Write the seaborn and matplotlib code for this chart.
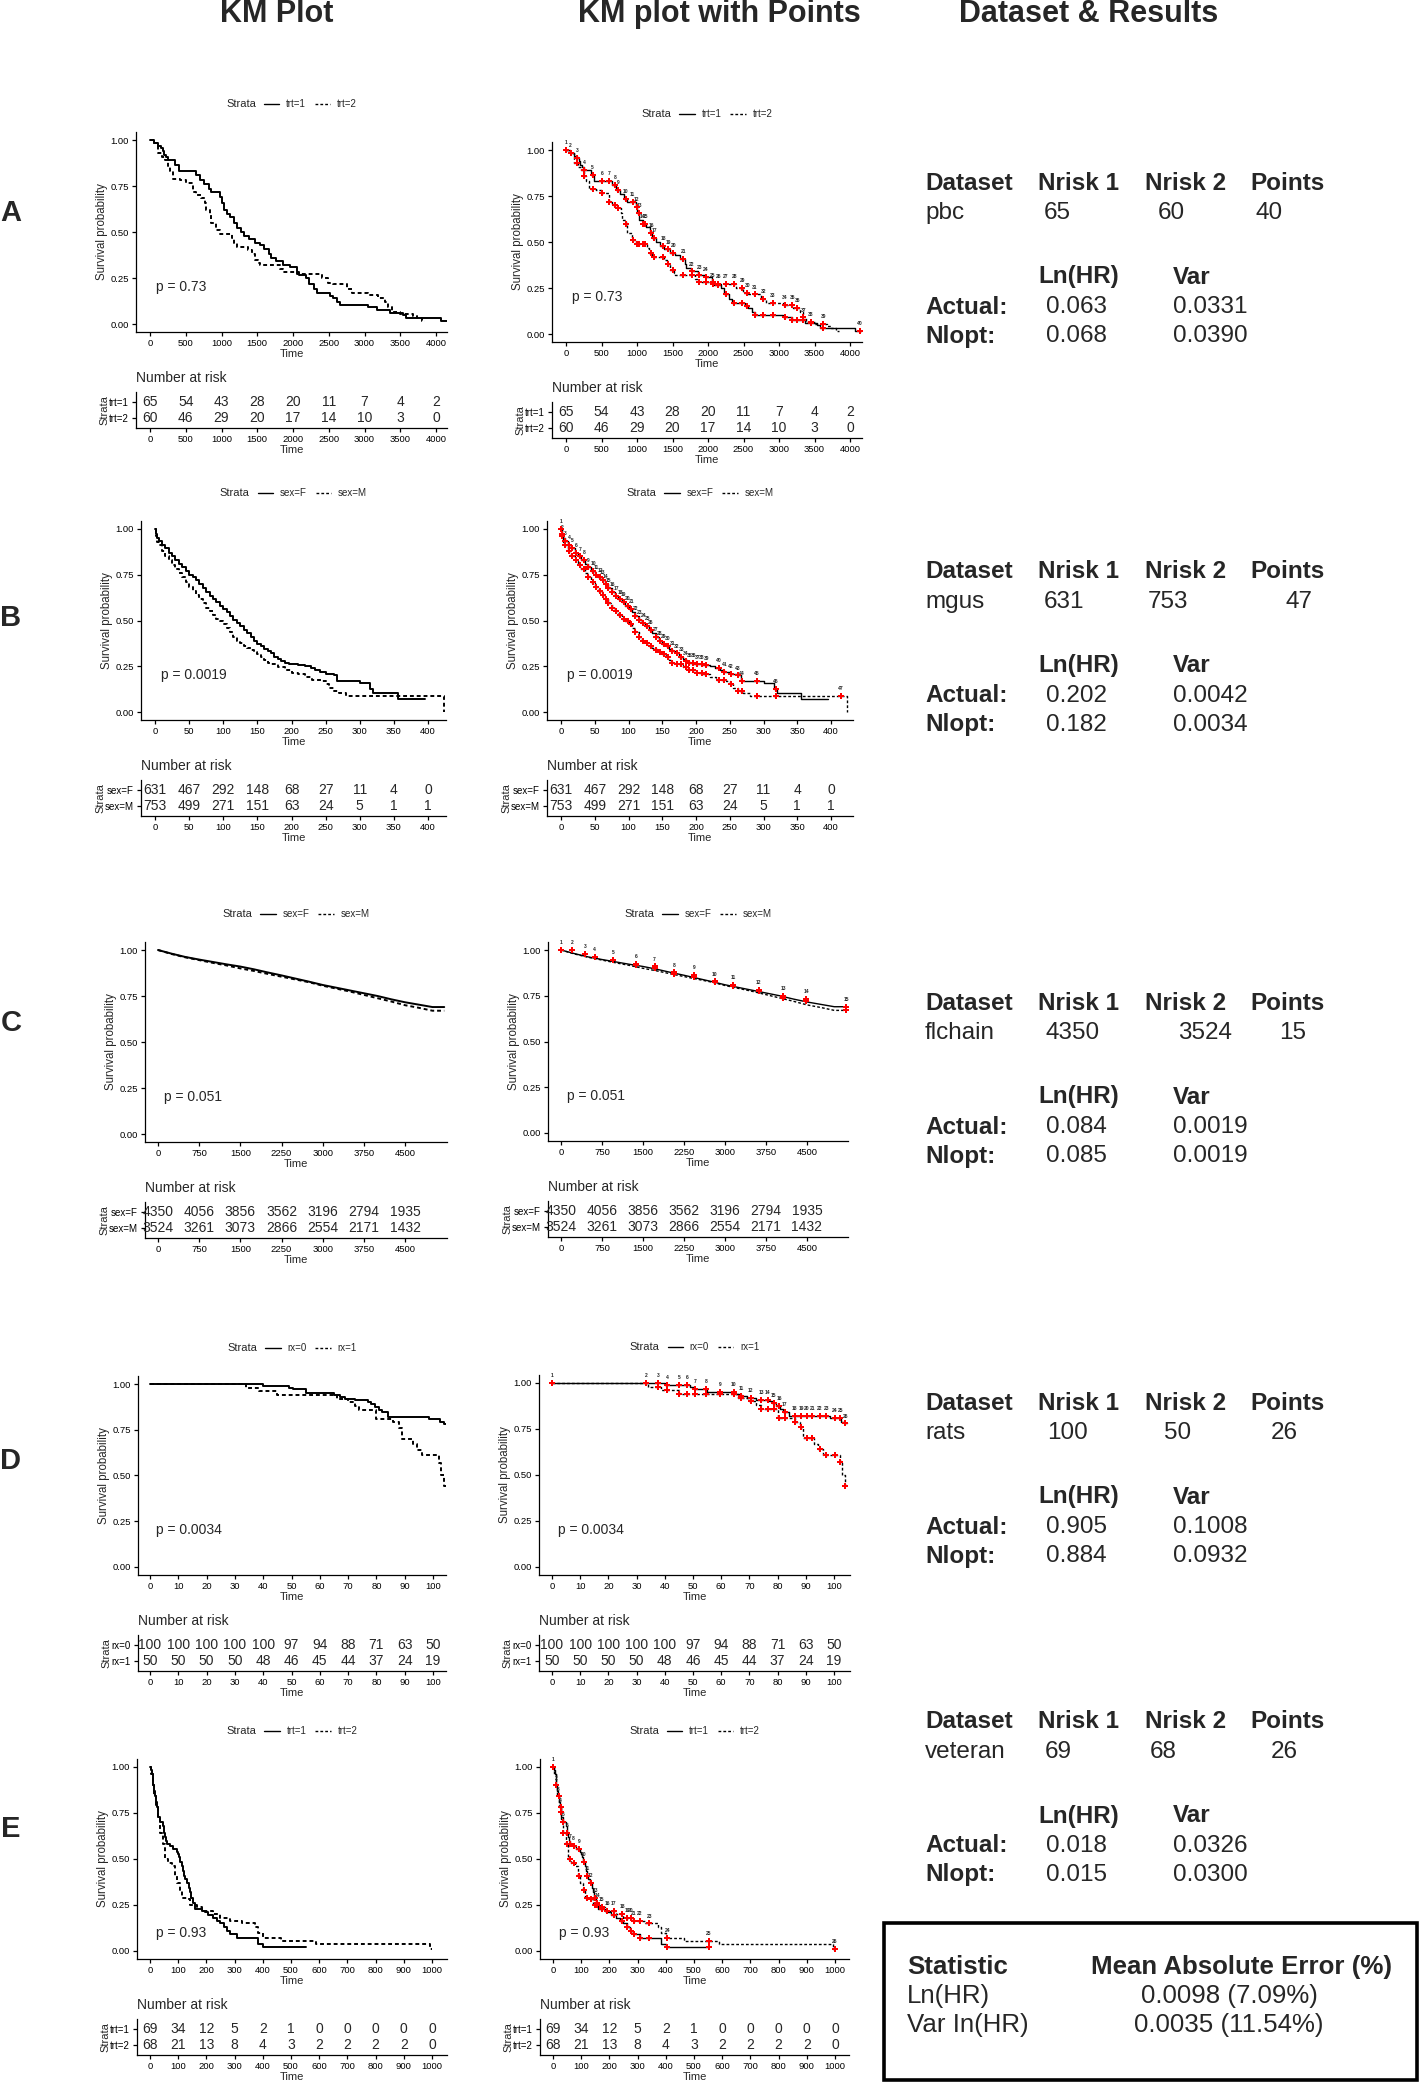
import numpy as np
import pandas as pd
import matplotlib
matplotlib.use("Agg")
import matplotlib.pyplot as plt
import seaborn as sns
from matplotlib.lines import Line2D
from matplotlib.patches import Rectangle

sns.set_theme(style="ticks")
plt.rcParams["font.family"] = ["Liberation Sans", "DejaVu Sans"]
plt.rcParams["axes.edgecolor"] = "black"

# ---------------------------------------------------------------- data
PBC_STRATA = ["trt=1", "trt=2"]
PBC_TRT1 = [(0, 1.0), (60, 0.985), (110, 0.97), (150, 0.955), (180, 0.94), (200, 0.92), (230, 0.905),
            (250, 0.89), (350, 0.865), (400, 0.83), (650, 0.81), (700, 0.785), (760, 0.76), (820, 0.735),
            (860, 0.72), (980, 0.69), (1000, 0.66), (1030, 0.62), (1080, 0.60), (1120, 0.58), (1180, 0.55),
            (1210, 0.52), (1270, 0.50), (1320, 0.48), (1380, 0.46), (1470, 0.44), (1540, 0.43), (1600, 0.41),
            (1670, 0.38), (1690, 0.36), (1760, 0.34), (1860, 0.32), (1960, 0.31), (2050, 0.28), (2090, 0.265),
            (2180, 0.25), (2230, 0.22), (2290, 0.19), (2340, 0.17), (2520, 0.15), (2560, 0.14), (2620, 0.12),
            (2660, 0.105), (3050, 0.09), (3180, 0.075), (3360, 0.06), (3540, 0.05), (3580, 0.035),
            (4070, 0.015), (4190, 0.015)]
PBC_TRT2 = [(0, 1.0), (60, 0.985), (117, 0.93), (170, 0.91), (210, 0.89), (255, 0.86), (280, 0.83),
            (326, 0.79), (420, 0.78), (510, 0.765), (606, 0.72), (650, 0.70), (720, 0.685), (770, 0.66),
            (790, 0.62), (840, 0.60), (860, 0.55), (930, 0.51), (980, 0.49), (1140, 0.47), (1175, 0.44),
            (1210, 0.42), (1375, 0.40), (1420, 0.38), (1470, 0.35), (1515, 0.33), (1540, 0.32), (1820, 0.30),
            (1865, 0.285), (2050, 0.27), (2400, 0.25), (2495, 0.225), (2565, 0.215), (2750, 0.19),
            (2820, 0.17), (3050, 0.16), (3195, 0.14), (3290, 0.12), (3335, 0.09), (3380, 0.065),
            (3500, 0.055), (3680, 0.045), (3730, 0.03), (3800, 0.015), (3840, 0.015)]
PBC_POINTS = [0, 66, 160, 258, 375, 512, 610, 690, 737, 840, 939, 995, 1028, 1080, 1113, 1197, 1244, 1371,
              1441, 1512, 1653, 1770, 1878, 1972, 2066, 2146, 2254, 2371, 2484, 2554, 2662, 2779, 2911, 3085,
              3188, 3258, 3343, 3446, 3624, 4141]
PBC_TICKS = [0, 500, 1000, 1500, 2000, 2500, 3000, 3500, 4000]
PBC_RISK1 = [65, 54, 43, 28, 20, 11, 7, 4, 2]
PBC_RISK2 = [60, 46, 29, 20, 17, 14, 10, 3, 0]

MGUS_STRATA = ["sex=F", "sex=M"]
MGUS_F = [(0, 1.0), (1, 0.97), (3, 0.95), (6, 0.935), (10, 0.915), (15, 0.895), (20, 0.87), (25, 0.85),
          (30, 0.83), (35, 0.81), (40, 0.79), (45, 0.77), (50, 0.75), (55, 0.735), (60, 0.72), (65, 0.70),
          (70, 0.68), (75, 0.655), (80, 0.635), (85, 0.615), (90, 0.60), (95, 0.58), (100, 0.565),
          (105, 0.545), (110, 0.525), (115, 0.505), (120, 0.485), (125, 0.47), (130, 0.45), (135, 0.43),
          (140, 0.41), (145, 0.39), (150, 0.37), (155, 0.36), (160, 0.345), (165, 0.335), (170, 0.32),
          (175, 0.30), (180, 0.29), (185, 0.28), (190, 0.27), (197, 0.26), (210, 0.255), (220, 0.25),
          (228, 0.24), (235, 0.23), (242, 0.22), (250, 0.21), (262, 0.20), (266, 0.17), (300, 0.16),
          (315, 0.125), (320, 0.105), (356, 0.07), (395, 0.07)]
MGUS_M = [(0, 1.0), (1, 0.96), (3, 0.93), (6, 0.91), (10, 0.88), (15, 0.855), (20, 0.83), (25, 0.805),
          (30, 0.78), (35, 0.76), (40, 0.735), (45, 0.71), (50, 0.685), (55, 0.66), (60, 0.64), (65, 0.615),
          (70, 0.595), (75, 0.57), (80, 0.55), (85, 0.53), (90, 0.51), (95, 0.495), (100, 0.48), (105, 0.46),
          (110, 0.435), (115, 0.41), (120, 0.39), (125, 0.375), (130, 0.36), (135, 0.35), (140, 0.34),
          (145, 0.33), (150, 0.315), (155, 0.30), (160, 0.285), (165, 0.27), (170, 0.26), (180, 0.245),
          (190, 0.23), (200, 0.215), (210, 0.205), (220, 0.19), (230, 0.175), (245, 0.17), (250, 0.155),
          (255, 0.13), (262, 0.115), (270, 0.105), (280, 0.09), (424, 0.0)]
MGUS_POINTS = [0, 2, 6, 12, 16, 22, 28, 34, 40, 48, 52, 58, 62, 66, 70, 76, 82, 88, 93, 99, 104, 110, 116,
               122, 128, 133, 140, 146, 152, 158, 165, 172, 178, 185, 190, 196, 202, 209, 215, 234, 242, 252,
               262, 268, 290, 318, 415]
MGUS_TICKS = [0, 50, 100, 150, 200, 250, 300, 350, 400]
MGUS_RISK1 = [631, 467, 292, 148, 68, 27, 11, 4, 0]
MGUS_RISK2 = [753, 499, 271, 151, 63, 24, 5, 1, 1]

FLC_STRATA = ["sex=F", "sex=M"]
FLC_F = [(0, 1.0), (250, 0.98), (500, 0.962), (750, 0.948), (1000, 0.935), (1250, 0.922), (1500, 0.91),
         (1750, 0.895), (2000, 0.878), (2250, 0.862), (2500, 0.845), (2750, 0.828), (3000, 0.81),
         (3250, 0.795), (3500, 0.78), (3750, 0.765), (4000, 0.75), (4250, 0.732), (4500, 0.716),
         (4750, 0.703), (5000, 0.69), (5215, 0.69)]
FLC_M = [(0, 1.0), (250, 0.978), (500, 0.96), (750, 0.945), (1000, 0.93), (1250, 0.916), (1500, 0.90),
         (1750, 0.886), (2000, 0.87), (2250, 0.855), (2500, 0.84), (2750, 0.825), (3000, 0.806),
         (3250, 0.79), (3500, 0.774), (3750, 0.756), (4000, 0.738), (4250, 0.72), (4500, 0.70),
         (4750, 0.686), (5000, 0.67), (5215, 0.67)]
FLC_POINTS = [0, 201, 445, 616, 951, 1372, 1713, 2073, 2439, 2811, 3146, 3616, 4061, 4488, 5215]
FLC_TICKS = [0, 750, 1500, 2250, 3000, 3750, 4500]
FLC_RISK1 = [4350, 4056, 3856, 3562, 3196, 2794, 1935]
FLC_RISK2 = [3524, 3261, 3073, 2866, 2554, 2171, 1432]

RATS_STRATA = ["rx=0", "rx=1"]
RATS_RX0 = [(0, 1.0), (40, 0.99), (49, 0.98), (50.5, 0.97), (55, 0.95), (65, 0.94), (67, 0.93), (69, 0.92),
            (72.5, 0.91), (77, 0.90), (78, 0.89), (79.5, 0.875), (81, 0.86), (82, 0.845), (84, 0.82),
            (98.5, 0.81), (102.5, 0.79), (104, 0.78), (104.5, 0.78)]
RATS_RX1 = [(0, 1.0), (34, 0.98), (38.5, 0.96), (45, 0.94), (66, 0.92), (70, 0.90), (72.5, 0.88),
            (74, 0.86), (80, 0.81), (86, 0.79), (88, 0.76), (89, 0.70), (93, 0.67), (94.5, 0.64), (96, 0.61),
            (102, 0.57), (103, 0.50), (104, 0.44), (104.5, 0.44)]
RATS_POINTS = [0, 33.5, 37.6, 40.9, 45, 47.9, 50.6, 54.7, 59.7, 64.4, 67.1, 70.4, 74.2, 76.6, 78.6, 80.5,
               82.5, 86, 88.4, 90.4, 92.3, 94.9, 97.3, 100.2, 102.2, 104]
RATS_TICKS = [0, 10, 20, 30, 40, 50, 60, 70, 80, 90, 100]
RATS_RISK1 = [100, 100, 100, 100, 100, 97, 94, 88, 71, 63, 50]
RATS_RISK2 = [50, 50, 50, 50, 48, 46, 45, 44, 37, 24, 19]

VET_STRATA = ["trt=1", "trt=2"]
VET_TRT1 = [(0, 1.0), (3, 0.985), (6, 0.96), (10, 0.93), (12, 0.90), (15, 0.87), (18, 0.84), (21, 0.81),
            (24, 0.78), (27, 0.755), (30, 0.73), (35, 0.70), (45, 0.68), (50, 0.64), (53, 0.62), (58, 0.60),
            (61, 0.58), (71, 0.57), (83, 0.555), (94, 0.54), (100, 0.525), (104, 0.51), (108, 0.485),
            (112, 0.46), (117, 0.435), (120, 0.41), (125, 0.39), (130, 0.37), (137, 0.345), (142, 0.32),
            (147, 0.29), (151, 0.26), (159, 0.23), (183, 0.22), (195, 0.21), (207, 0.195), (224, 0.18),
            (236, 0.165), (248, 0.15), (262, 0.13), (272, 0.11), (283, 0.09), (307, 0.07), (384, 0.04),
            (401, 0.02), (553, 0.02)]
VET_TRT2 = [(0, 1.0), (2, 0.96), (9, 0.90), (14, 0.84), (21, 0.78), (30, 0.72), (35, 0.64), (45, 0.58),
            (53, 0.50), (65, 0.48), (77, 0.46), (89, 0.41), (97, 0.37), (106, 0.33), (112, 0.29),
            (130, 0.28), (142, 0.25), (165, 0.24), (183, 0.22), (224, 0.20), (248, 0.18), (283, 0.165),
            (325, 0.15), (372, 0.13), (384, 0.10), (401, 0.07), (466, 0.055), (590, 0.04), (992, 0.01),
            (999, 0.01)]
VET_POINTS = [0, 12, 20, 27, 35, 50, 62, 73, 92, 110, 121, 134, 149, 157, 173, 193, 215, 246, 264, 276, 286,
              308, 341, 406, 553, 999]
VET_TICKS = [0, 100, 200, 300, 400, 500, 600, 700, 800, 900, 1000]
VET_RISK1 = [69, 34, 12, 5, 2, 1, 0, 0, 0, 0, 0]
VET_RISK2 = [68, 21, 13, 8, 4, 3, 2, 2, 2, 2, 0]

ROW_LETTERS = ["A", "B", "C", "D", "E"]
DATASET_NAMES = ["pbc", "mgus", "flchain", "rats", "veteran"]
P_VALUES = ["0.73", "0.0019", "0.051", "0.0034", "0.93"]
P_Y = [0.2, 0.2, 0.2, 0.2, 0.1]
NRISK1 = ["65", "631", "4350", "100", "69"]
NRISK2 = ["60", "753", "3524", "50", "68"]
NPOINTS = ["40", "47", "15", "26", "26"]
LNHR_ACTUAL = ["0.063", "0.202", "0.084", "0.905", "0.018"]
VAR_ACTUAL = ["0.0331", "0.0042", "0.0019", "0.1008", "0.0326"]
LNHR_NLOPT = ["0.068", "0.182", "0.085", "0.884", "0.015"]
VAR_NLOPT = ["0.0390", "0.0034", "0.0019", "0.0932", "0.0300"]
MAE_STATS = ["Ln(HR)", "Var In(HR)"]
MAE_VALUES = ["0.0098 (7.09%)", "0.0035 (11.54%)"]

DATASETS = [
    dict(strata=PBC_STRATA, curves=[PBC_TRT1, PBC_TRT2], points=PBC_POINTS, ticks=PBC_TICKS,
         risk=[PBC_RISK1, PBC_RISK2], smooth=False),
    dict(strata=MGUS_STRATA, curves=[MGUS_F, MGUS_M], points=MGUS_POINTS, ticks=MGUS_TICKS,
         risk=[MGUS_RISK1, MGUS_RISK2], smooth=False),
    dict(strata=FLC_STRATA, curves=[FLC_F, FLC_M], points=FLC_POINTS, ticks=FLC_TICKS,
         risk=[FLC_RISK1, FLC_RISK2], smooth=True),
    dict(strata=RATS_STRATA, curves=[RATS_RX0, RATS_RX1], points=RATS_POINTS, ticks=RATS_TICKS,
         risk=[RATS_RISK1, RATS_RISK2], smooth=False),
    dict(strata=VET_STRATA, curves=[VET_TRT1, VET_TRT2], points=VET_POINTS, ticks=VET_TICKS,
         risk=[VET_RISK1, VET_RISK2], smooth=False),
]

# ---------------------------------------------------------------- layout (pixels)
W, H = 1420, 2083
# (axis left, axis right, px of x=0, px of last tick, px of y=1, px of y=0)
LAYOUT = [
    [(136, 447, 150, 436, 140, 324), (552, 862, 566, 850, 150, 334)],
    [(141, 446, 155, 428, 529, 712), (547, 853, 561, 831, 529, 712)],
    [(145, 447, 158, 405, 950, 1134), (548, 848, 561, 807, 950, 1133)],
    [(138, 446, 150, 433, 1384, 1567), (539, 850, 552, 834, 1383, 1567)],
    [(137, 447, 150, 432, 1767, 1951), (540, 849, 553, 835, 1767, 1951)],
]
LETTER_Y = [213, 618, 1023, 1461, 1829]
TEXT_HEADER_Y = [183, 572, 1003, 1403, 1722]
VALUE_X = [[925, 1044, 1158, 1256], [925, 1044, 1148, 1286], [925, 1045, 1178, 1279],
           [925, 1047, 1164, 1271], [925, 1045, 1150, 1271]]

fig = plt.figure(figsize=(W / 100, H / 100), dpi=100)
fig.patch.set_facecolor("white")


def rect(l, t, r, b):
    return [l / W, 1 - b / H, (r - l) / W, (b - t) / H]


def ftext(x, y, s, **kw):
    fig.text(x / W, 1 - y / H, s, **kw)


def surv_at(curve, t):
    val = None
    for ct, cs in curve:
        if ct <= t:
            val = cs
    return val


def style_axes(ax):
    for sp in ["top", "right"]:
        ax.spines[sp].set_visible(False)
    for sp in ["left", "bottom"]:
        ax.spines[sp].set_linewidth(0.9)
        ax.spines[sp].set_color("black")
    ax.tick_params(axis="both", direction="out", length=3, width=0.9, labelsize=6.8,
                   colors="black", pad=2, left=True, bottom=True)
    ax.set_facecolor("white")
    ax.grid(False)


legend_jobs = []


def draw_km(ds, lay, pval, py, with_points):
    left, right, x0, xtp, y1, y0 = lay
    ticks = ds["ticks"]
    xs = (xtp - x0) / ticks[-1]
    xlim = ((left - x0) / xs, (right - x0) / xs)
    yr = y0 - y1
    top, bottom = y1 - 0.045 * yr, y0 + 0.045 * yr
    ax = fig.add_axes(rect(left, top, right, bottom))
    rows = []
    for lab, curve in zip(ds["strata"], ds["curves"]):
        for t, s in curve:
            rows.append((lab, t, s))
    df = pd.DataFrame(rows, columns=["strata", "time", "surv"])
    lw = 1.0 if with_points else 1.4
    sns.lineplot(data=df, x="time", y="surv", style="strata", style_order=ds["strata"],
                 dashes={ds["strata"][0]: "", ds["strata"][1]: (2, 1.5)}, color="black",
                 estimator=None, sort=False, linewidth=lw, legend=False, ax=ax,
                 drawstyle="default" if ds["smooth"] else "steps-post")
    if with_points:
        pts = []
        labs = []
        for i, t in enumerate(ds["points"]):
            vals = []
            for curve in ds["curves"]:
                if t <= curve[-1][0] + 1e-9:
                    v = surv_at(curve, t)
                    vals.append(v)
                    pts.append((t, v))
            if vals:
                labs.append((t, max(vals), str(i + 1)))
        pdf = pd.DataFrame(pts, columns=["time", "surv"])
        sns.scatterplot(data=pdf, x="time", y="surv", marker="P", s=13, color="red",
                        linewidth=0, ax=ax, zorder=5, clip_on=False)
        for t, v, s in labs:
            ax.text(t, v + 0.04, s, fontsize=3.6, fontweight="bold", ha="center", va="center",
                    clip_on=False)
    tmax = max(c[-1][0] for c in ds["curves"])
    ax.text(tmax / 50, py, "p = " + pval, fontsize=10, ha="left", va="center")
    ax.set_xlim(*xlim)
    ax.set_ylim(-0.045, 1.045)
    ax.set_xticks(ticks)
    ax.set_xticklabels([str(t) for t in ticks])
    ax.set_yticks([0, 0.25, 0.5, 0.75, 1.0])
    ax.set_yticklabels(["0.00", "0.25", "0.50", "0.75", "1.00"])
    style_axes(ax)
    ax.set_xlabel("Time", fontsize=8, labelpad=0.5)
    ax.set_ylabel("Survival probability", fontsize=8.3, labelpad=2)

    # legend
    yl = y1 - 36
    cx = (left + right) / 2
    handles = [Line2D([], [], color="black", lw=1.0),
               Line2D([], [], color="black", lw=1.0, dashes=(2, 1.5))]
    leg = ax.legend(handles, ds["strata"], loc="center", ncol=2, frameon=False, fontsize=7,
                    handlelength=1.6, handletextpad=0.7, columnspacing=0.9, borderpad=0,
                    borderaxespad=0,
                    bbox_to_anchor=((cx + 19 - left) / (right - left), (bottom - yl) / (bottom - top)))
    legend_jobs.append(leg)

    # risk table
    rt_top, rt_bot = y0 + 68, y0 + 104
    rax = fig.add_axes(rect(left, rt_top, right, rt_bot))
    rax.set_xlim(*xlim)
    rax.set_ylim(0.35, 2.65)
    for row_y, counts in zip([2, 1], ds["risk"]):
        for t, n in zip(ticks, counts):
            rax.text(t, row_y, str(n), ha="center", va="center", fontsize=10)
    rax.set_xticks(ticks)
    rax.set_xticklabels([str(t) for t in ticks])
    rax.set_yticks([2, 1])
    rax.set_yticklabels(ds["strata"], fontsize=7)
    style_axes(rax)
    rax.tick_params(axis="y", labelsize=7)
    rax.set_xlabel("Time", fontsize=8, labelpad=0.5)
    rax.set_ylabel("Strata", fontsize=8, labelpad=0)
    rax.text(0, 1 + 14 / (rt_bot - rt_top), "Number at risk", transform=rax.transAxes,
             fontsize=10, ha="left", va="center")


for r, ds in enumerate(DATASETS):
    draw_km(ds, LAYOUT[r][0], P_VALUES[r], P_Y[r], False)
    draw_km(ds, LAYOUT[r][1], P_VALUES[r], P_Y[r], True)

    ftext(11, LETTER_Y[r], ROW_LETTERS[r], fontsize=21, fontweight="bold", ha="center", va="center")

    hy = TEXT_HEADER_Y[r]
    fs = 17.5
    for x, s in zip([925, 1038, 1145, 1250], ["Dataset", "Nrisk 1", "Nrisk 2", "Points"]):
        ftext(x, hy, s, fontsize=fs, fontweight="bold", ha="left", va="center")
    for x, s in zip(VALUE_X[r], [DATASET_NAMES[r], NRISK1[r], NRISK2[r], NPOINTS[r]]):
        ftext(x, hy + 30, s, fontsize=fs, ha="left", va="center")
    ftext(1038, hy + 94, "Ln(HR)", fontsize=fs, fontweight="bold", ha="left", va="center")
    ftext(1173, hy + 94, "Var", fontsize=fs, fontweight="bold", ha="left", va="center")
    ftext(925, hy + 124, "Actual:", fontsize=fs, fontweight="bold", ha="left", va="center")
    ftext(925, hy + 153, "Nlopt:", fontsize=fs, fontweight="bold", ha="left", va="center")
    ftext(1046, hy + 124, LNHR_ACTUAL[r], fontsize=fs, ha="left", va="center")
    ftext(1173, hy + 124, VAR_ACTUAL[r], fontsize=fs, ha="left", va="center")
    ftext(1046, hy + 153, LNHR_NLOPT[r], fontsize=fs, ha="left", va="center")
    ftext(1173, hy + 153, VAR_NLOPT[r], fontsize=fs, ha="left", va="center")

# column headers
for x, s in zip([277, 719, 1089], ["KM Plot", "KM plot with Points", "Dataset & Results"]):
    ftext(x, 14, s, fontsize=22, fontweight="bold", ha="center", va="center")

# results box
box = Rectangle((884 / W, 1 - 2080 / H), (1417 - 884) / W, (2080 - 1923) / H,
                transform=fig.transFigure, fill=False, lw=2.6, ec="black")
fig.add_artist(box)
bfs = 18.6
ftext(907, 1967, "Statistic", fontsize=bfs, fontweight="bold", ha="left", va="center")
ftext(1091, 1967, "Mean Absolute Error (%)", fontsize=bfs, fontweight="bold", ha="left", va="center")
for i, (s, v) in enumerate(zip(MAE_STATS, MAE_VALUES)):
    ftext(907, 1996 + 29 * i, s, fontsize=bfs, ha="left", va="center")
    ftext(1229, 1996 + 29 * i, v, fontsize=bfs, ha="center", va="center")

# "Strata" titles left of the legends
fig.canvas.draw()
for leg in legend_jobs:
    bb = leg.get_window_extent()
    fig.text((bb.x0 - 8) / W, (bb.y0 + bb.y1) / 2 / H, "Strata", fontsize=8, ha="right", va="center")

fig.savefig("out.png", dpi=100, facecolor="white")
